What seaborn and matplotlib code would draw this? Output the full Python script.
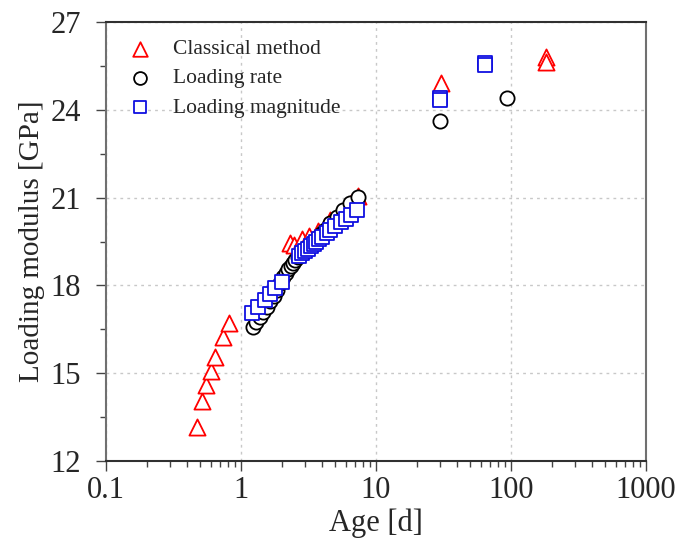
import numpy as np
import pandas as pd
import matplotlib
matplotlib.use("Agg")
import matplotlib.pyplot as plt
import seaborn as sns
from matplotlib.ticker import LogLocator, FixedLocator, NullFormatter

# ---- data ----
classical_age = [0.47, 0.515, 0.55, 0.60, 0.64, 0.73, 0.82,
                 2.3, 2.45, 2.85, 3.2, 3.7, 4.2, 4.6, 5.2, 5.75, 6.5, 7.3,
                 30.5, 182, 182]
classical_mod = [13.16, 14.05, 14.6, 15.08, 15.55, 16.24, 16.72,
                 19.45, 19.38, 19.6, 19.68, 19.85, 20.02, 20.22, 20.42, 20.58, 20.83, 21.05,
                 24.92, 25.8, 25.65]

rate_age = [1.23, 1.3, 1.38, 1.46, 1.55, 1.65, 1.75, 1.85, 1.96, 2.05, 2.15, 2.24,
            2.33, 2.43, 2.53, 2.65, 2.78, 2.9, 3.05, 3.27, 3.5, 3.74, 4.0, 4.22,
            4.6, 5.18, 5.74, 6.47, 7.3, 30.0, 93.0]
rate_mod = [16.58, 16.75, 16.92, 17.08, 17.25, 17.45, 17.63, 17.85, 18.08, 18.28, 18.42, 18.55,
            18.67, 18.78, 18.88, 18.98, 19.08, 19.17, 19.27, 19.38, 19.5, 19.65, 19.78, 19.89,
            20.13, 20.34, 20.58, 20.82, 21.02, 23.62, 24.4]

mag_age = [1.2, 1.33, 1.5, 1.65, 1.8, 2.0, 2.7, 2.85, 3.0, 3.15, 3.3, 3.45, 3.6, 3.8,
           4.0, 4.3, 4.6, 5.0, 5.5, 6.0, 6.5, 7.2, 30.0, 30.0, 64.0, 64.0]
mag_mod = [17.05, 17.25, 17.5, 17.72, 17.92, 18.12, 19.0, 19.1, 19.18, 19.26, 19.34, 19.42, 19.5, 19.58,
           19.66, 19.78, 19.9, 20.02, 20.15, 20.28, 20.42, 20.58, 24.4, 24.32, 25.6, 25.52]

x_ticks = [0.1, 1, 10, 100, 1000]
x_ticklabels = ["0.1", "1", "10", "100", "1000"]
y_ticks = [12, 15, 18, 21, 24, 27]

# ---- style ----
sns.set_style("white")
plt.rcParams["font.family"] = ["Liberation Serif", "DejaVu Serif"]

fig = plt.figure(figsize=(6.93, 5.47), dpi=100)
ax = fig.add_axes([106 / 693, 1 - 461 / 547, (646 - 106) / 693, (461 - 22) / 547])

lw = 1.3
sns.scatterplot(x=classical_age, y=classical_mod, ax=ax, marker="^", s=135,
                facecolor="white", edgecolor="#ff0000", linewidth=lw,
                label="Classical method", zorder=3)
sns.scatterplot(x=rate_age, y=rate_mod, ax=ax, marker="o", s=105,
                facecolor="white", edgecolor="black", linewidth=lw,
                label="Loading rate", zorder=4)
sns.scatterplot(x=mag_age, y=mag_mod, ax=ax, marker="s", s=90,
                facecolor="white", edgecolor="#1010e0", linewidth=lw,
                label="Loading magnitude", zorder=5)

ax.set_xscale("log")
ax.set_xlim(0.1, 1000)
ax.set_ylim(12, 27)
ax.xaxis.set_major_locator(FixedLocator(x_ticks))
ax.set_xticklabels(x_ticklabels)
ax.xaxis.set_minor_locator(LogLocator(base=10, subs=np.arange(2, 10)))
ax.xaxis.set_minor_formatter(NullFormatter())
ax.set_yticks(y_ticks)
ax.yaxis.set_minor_locator(FixedLocator([13.5, 16.5, 19.5, 22.5, 25.5]))

ax.grid(True, which="major", linestyle=(0, (2, 3)), color="#c8c8c8", linewidth=1.0)
ax.set_axisbelow(True)

ax.tick_params(axis="both", which="major", direction="out", length=7, width=1.0,
               labelsize=22, color="#444444", pad=4,
               bottom=True, left=True, top=False, right=False)
ax.tick_params(axis="y", which="major", pad=11)
ax.tick_params(axis="both", which="minor", direction="out", length=4, width=1.0,
               color="#444444", bottom=True, left=True, top=False, right=False)

for side in ["left", "right"]:
    ax.spines[side].set_color("#707070")
    ax.spines[side].set_linewidth(1.5)
for side in ["top", "bottom"]:
    ax.spines[side].set_color("#303030")
    ax.spines[side].set_linewidth(1.5)
    ax.spines[side].set_visible(True)

ax.set_xlabel("Age [d]", fontsize=22, labelpad=2)
ax.set_ylabel("Loading modulus [GPa]", fontsize=21, labelpad=4)

leg = ax.legend(loc="upper left", bbox_to_anchor=(0.0, 0.99), frameon=False,
                fontsize=15.5, handletextpad=0.5, labelspacing=0.42,
                borderaxespad=0.2, markerscale=0.9)

fig.savefig("out.png", dpi=100)
